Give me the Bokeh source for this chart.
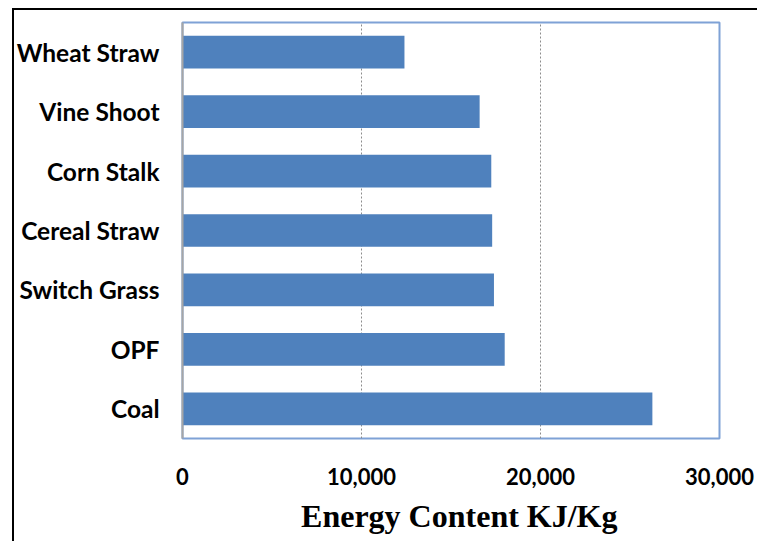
from bokeh.plotting import figure
from bokeh.models import FactorRange, Range1d, FixedTicker, NumeralTickFormatter, Title, ColumnDataSource
from bokeh.embed import file_html
from bokeh.resources import INLINE

categories = ["Coal", "OPF", "Switch Grass", "Cereal Straw", "Corn Stalk", "Vine Shoot", "Wheat Straw"]
energy = [26250, 18000, 17400, 17300, 17250, 16600, 12400]
x_ticks = [0, 10000, 20000, 30000]
x_title = "Energy Content KJ/Kg"

src = ColumnDataSource(dict(cat=categories, val=energy))

p = figure(width=757, height=541, output_backend="svg", toolbar_location=None,
           y_range=FactorRange(factors=categories, range_padding=0),
           x_range=Range1d(0, 30000),
           min_border_left=182, min_border_right=38, min_border_top=22, min_border_bottom=99)

p.hbar(y="cat", right="val", height=0.55, source=src, color="#4f81bd", line_color=None)

p.border_fill_color = None
p.background_fill_color = "white"
p.styles = {"background": "linear-gradient(#000,#000) 12px 8px/2px 100% no-repeat, "
                          "linear-gradient(#000,#000) 12px 8px/100% 2px no-repeat, #ffffff"}
p.outline_line_color = "#7fa2d6"
p.outline_line_width = 2

p.ygrid.grid_line_color = None
p.xgrid.ticker = FixedTicker(ticks=[10000, 20000])
p.xgrid.grid_line_color = "#8c8c8c"
p.xgrid.grid_line_dash = "2 2"
p.xgrid.grid_line_width = 1

lab_font = "Lato"
p.xaxis.ticker = FixedTicker(ticks=x_ticks)
p.xaxis.formatter = NumeralTickFormatter(format="0,0")
p.xaxis.axis_line_color = None
p.xaxis.major_tick_line_color = None
p.xaxis.minor_tick_line_color = None
p.xaxis.major_label_standoff = 23
p.xaxis.major_label_text_font = lab_font
p.xaxis.major_label_text_font_style = "bold"
p.xaxis.major_label_text_font_size = "22px"
p.xaxis.major_label_text_color = "black"

p.yaxis.axis_line_color = "#a6a6a6"
p.yaxis.axis_line_width = 2
p.yaxis.major_tick_line_color = None
p.yaxis.minor_tick_line_color = None
p.yaxis.major_label_standoff = 17
p.yaxis.major_label_text_font = lab_font
p.yaxis.major_label_text_font_style = "bold"
p.yaxis.major_label_text_font_size = "24.5px"
p.yaxis.major_label_text_color = "black"

title = Title(text=x_title, align="right", offset=102, standoff=16, text_font="Liberation Serif",
              text_font_style="bold", text_font_size="32px", text_color="black")
p.add_layout(title, "below")

open("out.html", "w").write(file_html(p, INLINE))
